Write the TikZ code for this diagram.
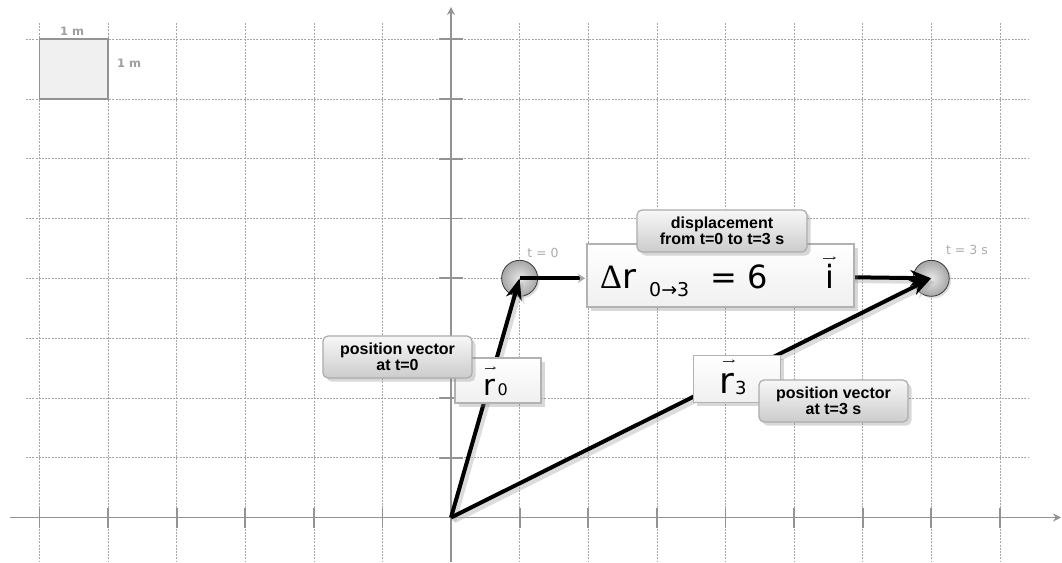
\documentclass[tikz,border=0pt]{standalone}
\usepackage{fontspec}
\setmainfont{DejaVu Sans}
\newfontfamily\labfont{Liberation Sans}
\newfontfamily\symfont{Liberation Serif}
\usetikzlibrary{arrows.meta,shadows}
\begin{document}
\begin{tikzpicture}[x=1pt,y=-1pt,
  gridline/.style={draw=gray!70, line width=0.6pt, dash pattern=on 2pt off 1.2pt},
  axisline/.style={draw=gray!85, line width=1.8pt},
  tickmark/.style={draw=gray!85, line width=1.8pt},
  unitsq/.style={draw=gray!85, fill=gray!12, line width=1.8pt},
  smalllab/.style={font=\bfseries\fontsize{11.5}{13}\selectfont, text=gray!75, inner sep=0},
  tlab/.style={font=\fontsize{12.5}{14}\selectfont, text=gray!65, inner sep=0},
  ball/.style={circle, minimum size=36pt, inner sep=0, inner color=gray!18, outer color=gray!70, draw=gray!45!black, line width=0.8pt, drop shadow={shadow xshift=2pt,shadow yshift=-2pt,opacity=0.25}},
  vec/.style={draw=black, line width=4pt, -{Stealth[length=21pt,width=16pt]}},
  vecshadow/.style={draw=gray!60, opacity=0.45, line width=4.5pt, -{Stealth[length=21pt,width=16pt]}, transform canvas={xshift=3pt,yshift=-3.5pt}},
  boxshadow/.style={drop shadow={shadow xshift=3.5pt,shadow yshift=-3.5pt,opacity=0.3}},
  valbox/.style={draw=gray!60, line width=1.6pt, top color=white, bottom color=gray!12, inner sep=0, boxshadow},
  lbox/.style={draw=gray!65, line width=1.2pt, rounded corners=5pt, top color=gray!6, bottom color=gray!40, inner sep=0, align=center, font=\labfont\bfseries\fontsize{16}{16.5}\selectfont, boxshadow},
  glyph/.style={inner sep=0, anchor=base west},
  vbar/.style={draw=black!80, line width=1pt, -{Stealth[length=3pt,width=3pt]}}
]
\useasboundingbox (0,0) rectangle (1062,562);
\fill[white] (0,0) rectangle (1062,562);

% grid
\foreach \k in {-6,-5,-4,-3,-2,-1,1,2,3,4,5,6,7,8}
  \draw[gridline] (451+68.6*\k,23) -- (451+68.6*\k,562);
\foreach \k in {1,...,8}
  \draw[gridline] (26,517.5-59.8*\k) -- (1028,517.5-59.8*\k);

% axes
\coordinate (O) at (451,517.5);
\coordinate (xs) at (10,517.5);
\coordinate (xe) at (1061,517.5);
\coordinate (ys) at (451,562);
\coordinate (ye) at (451,7);
\draw[axisline, -{Stealth[length=8pt,width=8pt]}] (xs) -- (xe);
\draw[axisline, -{Stealth[length=8pt,width=8pt]}] (ys) -- (ye);
\foreach \k in {-6,-5,-4,-3,-2,-1,1,2,3,4,5,6,7,8}
  \draw[tickmark] (451+68.6*\k,507.5) -- (451+68.6*\k,527.5);
\foreach \k in {1,...,8}
  \draw[tickmark] (439,517.5-59.8*\k) -- (463,517.5-59.8*\k);

% unit square
\draw[unitsq] (39.4,39.1) rectangle (108,98.9);
\node[smalllab] (m1) at (72,31) {1 m};
\node[smalllab] (m2) at (129,63) {1 m};

% balls
\node[ball] (b0) at (519.6,278.3) {};
\node[ball] (b3) at (931.2,278.3) {};
\node[tlab] (t0) at (543,253) {t = 0};
\node[tlab] (t3) at (967,250) {t = 3 s};

\path (720.5,275.5) coordinate (dbc);

% vector shadows
\draw[vecshadow] (O) -- (b0.center);
\draw[vecshadow] (O) -- (b3.center);
\draw[vecshadow] (dbc) -- (b3.center);

% vectors
\draw[vec] (O) -- (b0.center);
\draw[vec] (O) -- (b3.center);
\draw[vec] (dbc) -- (b3.center);
\draw[draw=black, line width=4pt, -{Stealth[length=7pt,width=9pt,color=gray!70]}] (b0.center) -- (585,278.3) coordinate (dtip);

% displacement box
\node[valbox, minimum width=267pt, minimum height=63pt] (db) at (dbc) {};
\node[glyph, font=\fontsize{34}{36}\selectfont] (dr) at (600,288) {{\symfont Δ}r};
\node[glyph, font=\fontsize{19}{21}\selectfont] (dsub) at (649,296) {0→3};
\node[glyph, font=\fontsize{32}{34}\selectfont] (deq) at (710,288) {= 6};
\node[inner sep=0, anchor=base, font=\fontsize{32}{34}\selectfont] (di) at (830,288) {i};
\draw[vbar] (823,258) -- (836,258);
\node[lbox, minimum width=170pt, minimum height=42pt] (dl) at (722,231) {displacement\\from t=0 to t=3 s};

% r0 box
\node[valbox, minimum width=86pt, minimum height=45pt] (r0b) at (498,380.5) {};
\node[glyph, font=\fontsize{29}{31}\selectfont] (r0t) at (483.5,395) {r};
\node[glyph, font=\fontsize{16}{18}\selectfont] (r0s) at (497.5,395.5) {0};
\draw[vbar] (485,368) -- (496,368);
\node[lbox, minimum width=149pt, minimum height=42pt] (r0l) at (397.5,357) {position vector\\at t=0};

% r3 box
\node[valbox, minimum width=87pt, minimum height=47pt] (r3b) at (737,379) {};
\node[glyph, font=\fontsize{36}{38}\selectfont] (r3t) at (719.5,393) {r};
\node[glyph, font=\fontsize{18}{20}\selectfont] (r3s) at (735,394) {3};
\draw[vbar] (723,361) -- (735,361);
\node[lbox, minimum width=149pt, minimum height=42pt] (r3l) at (833.5,401) {position vector\\at t=3 s};
\end{tikzpicture}
\end{document}
